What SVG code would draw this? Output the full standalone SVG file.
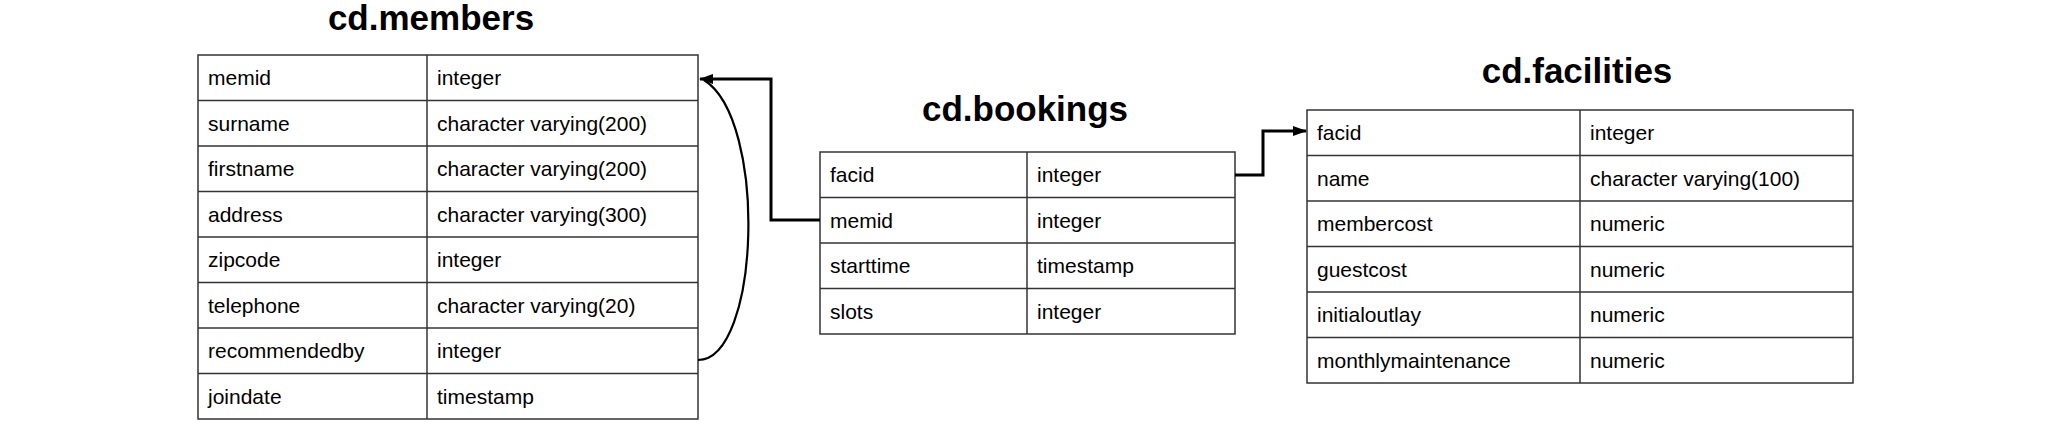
<svg xmlns="http://www.w3.org/2000/svg" width="2068" height="422" viewBox="0 0 2068 422">
<style>
.bg{fill:#ffffff}
.cell{fill:#ffffff;stroke:#333333;stroke-width:1.5}
.line{stroke:#333333;stroke-width:1.5}
.t{font-family:"Liberation Sans",Arial,sans-serif;font-size:21px;fill:#000000}
.title{font-family:"Liberation Sans",Arial,sans-serif;font-size:35px;font-weight:bold;fill:#000000;text-anchor:middle}
.conn{fill:none;stroke:#000000;stroke-width:3}
.curve{fill:none;stroke:#000000;stroke-width:2.2}
</style>
<defs>
<marker id="arrow" viewBox="0 0 14 10" refX="13" refY="5" markerWidth="14" markerHeight="10" markerUnits="userSpaceOnUse" orient="auto">
<path d="M0,0 L14,5 L0,10 Z" fill="#000000"/>
</marker>
</defs>
<rect class="bg" x="0" y="0" width="2068" height="422"/>

<g id="members">
<text class="title" x="431" y="30">cd.members</text>
<rect class="cell" x="198" y="55" width="500" height="364"/>
<line class="line" x1="427" y1="55" x2="427" y2="419"/>
<line class="line" x1="198" y1="100.5" x2="698" y2="100.5"/>
<line class="line" x1="198" y1="146" x2="698" y2="146"/>
<line class="line" x1="198" y1="191.5" x2="698" y2="191.5"/>
<line class="line" x1="198" y1="237" x2="698" y2="237"/>
<line class="line" x1="198" y1="282.5" x2="698" y2="282.5"/>
<line class="line" x1="198" y1="328" x2="698" y2="328"/>
<line class="line" x1="198" y1="373.5" x2="698" y2="373.5"/>
<text class="t" x="208" y="85">memid</text><text class="t" x="437" y="85">integer</text>
<text class="t" x="208" y="130.5">surname</text><text class="t" x="437" y="130.5">character varying(200)</text>
<text class="t" x="208" y="176">firstname</text><text class="t" x="437" y="176">character varying(200)</text>
<text class="t" x="208" y="221.5">address</text><text class="t" x="437" y="221.5">character varying(300)</text>
<text class="t" x="208" y="267">zipcode</text><text class="t" x="437" y="267">integer</text>
<text class="t" x="208" y="312.5">telephone</text><text class="t" x="437" y="312.5">character varying(20)</text>
<text class="t" x="208" y="358">recommendedby</text><text class="t" x="437" y="358">integer</text>
<text class="t" x="208" y="403.5">joindate</text><text class="t" x="437" y="403.5">timestamp</text>
</g>

<g id="bookings">
<text class="title" x="1025" y="121">cd.bookings</text>
<rect class="cell" x="820" y="152" width="415" height="182"/>
<line class="line" x1="1027" y1="152" x2="1027" y2="334"/>
<line class="line" x1="820" y1="197.5" x2="1235" y2="197.5"/>
<line class="line" x1="820" y1="243" x2="1235" y2="243"/>
<line class="line" x1="820" y1="288.5" x2="1235" y2="288.5"/>
<text class="t" x="830" y="182">facid</text><text class="t" x="1037" y="182">integer</text>
<text class="t" x="830" y="227.5">memid</text><text class="t" x="1037" y="227.5">integer</text>
<text class="t" x="830" y="273">starttime</text><text class="t" x="1037" y="273">timestamp</text>
<text class="t" x="830" y="318.5">slots</text><text class="t" x="1037" y="318.5">integer</text>
</g>

<g id="facilities">
<text class="title" x="1577" y="83">cd.facilities</text>
<rect class="cell" x="1307" y="110" width="546" height="273"/>
<line class="line" x1="1580" y1="110" x2="1580" y2="383"/>
<line class="line" x1="1307" y1="155.5" x2="1853" y2="155.5"/>
<line class="line" x1="1307" y1="201" x2="1853" y2="201"/>
<line class="line" x1="1307" y1="246.5" x2="1853" y2="246.5"/>
<line class="line" x1="1307" y1="292" x2="1853" y2="292"/>
<line class="line" x1="1307" y1="337.5" x2="1853" y2="337.5"/>
<text class="t" x="1317" y="140">facid</text><text class="t" x="1590" y="140">integer</text>
<text class="t" x="1317" y="185.5">name</text><text class="t" x="1590" y="185.5">character varying(100)</text>
<text class="t" x="1317" y="231">membercost</text><text class="t" x="1590" y="231">numeric</text>
<text class="t" x="1317" y="276.5">guestcost</text><text class="t" x="1590" y="276.5">numeric</text>
<text class="t" x="1317" y="322">initialoutlay</text><text class="t" x="1590" y="322">numeric</text>
<text class="t" x="1317" y="367.5">monthlymaintenance</text><text class="t" x="1590" y="367.5">numeric</text>
</g>

<g id="connectors">
<path class="conn" d="M820,220 L771,220 L771,79 L700,79" marker-end="url(#arrow)"/>
<path class="curve" d="M698,360 C760,360 768,120 704,80"/>
<path class="conn" d="M1235,175 L1263,175 L1263,131 L1306,131" marker-end="url(#arrow)"/>
</g>
</svg>
